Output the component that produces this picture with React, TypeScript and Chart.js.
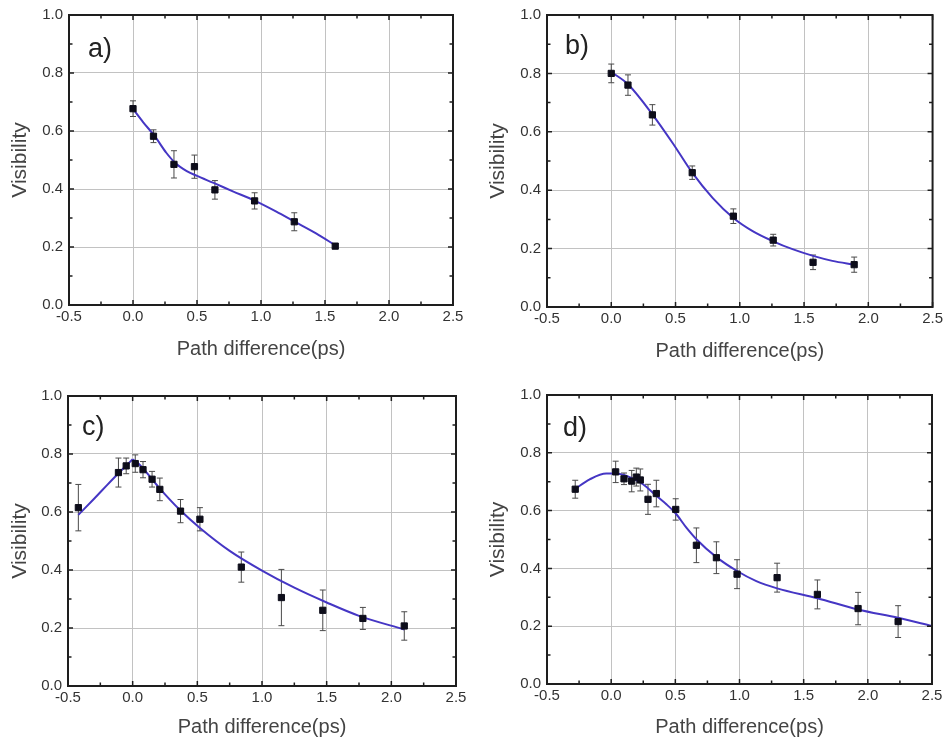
import React, { useEffect, useRef } from "react";
import { Chart, registerables } from "chart.js";

Chart.register(...registerables);
Chart.defaults.font.family = "'Liberation Sans', Arial, sans-serif";

// ---- tick values ----
const xTickValues = [-0.5, 0.0, 0.5, 1.0, 1.5, 2.0, 2.5];
const yTickValues = [0.0, 0.2, 0.4, 0.6, 0.8, 1.0];
const xMinorStep = 0.25;
const yMinorStep = 0.1;

// ---- panel a ----
const aX = [0, 0.16, 0.32, 0.48, 0.64, 0.95, 1.26, 1.58];
const aY = [0.677, 0.582, 0.485, 0.477, 0.397, 0.359, 0.287, 0.203];
const aErr = [0.027, 0.022, 0.047, 0.04, 0.032, 0.028, 0.031, 0.008];
const aFitX = [0, 0.08, 0.17, 0.26, 0.33, 0.42, 0.5, 0.63, 0.78, 0.95, 1.12, 1.26, 1.43, 1.58];
const aFitY = [0.676, 0.63, 0.582, 0.525, 0.49, 0.462, 0.445, 0.421, 0.392, 0.36, 0.322, 0.288, 0.247, 0.206];

// ---- panel b ----
const bX = [0, 0.13, 0.32, 0.63, 0.95, 1.26, 1.57, 1.89];
const bY = [0.8, 0.76, 0.658, 0.46, 0.311, 0.229, 0.153, 0.145];
const bErr = [0.032, 0.035, 0.035, 0.023, 0.025, 0.02, 0.025, 0.026];
const bFitX = [0, 0.13, 0.32, 0.48, 0.63, 0.79, 0.95, 1.1, 1.26, 1.41, 1.57, 1.72, 1.89];
const bFitY = [0.805, 0.763, 0.66, 0.56, 0.46, 0.373, 0.305, 0.26, 0.225, 0.198, 0.175, 0.158, 0.145];

// ---- panel c ----
const cX = [-0.42, -0.11, -0.05, 0.02, 0.08, 0.15, 0.21, 0.37, 0.52, 0.84, 1.15, 1.47, 1.78, 2.1];
const cY = [0.615, 0.736, 0.759, 0.767, 0.746, 0.713, 0.678, 0.603, 0.575, 0.41, 0.305, 0.261, 0.233, 0.207];
const cErr = [0.08, 0.05, 0.027, 0.03, 0.028, 0.027, 0.039, 0.04, 0.04, 0.052, 0.097, 0.07, 0.038, 0.049];
const cFitLeftX = [-0.42, -0.3, -0.2, -0.1, -0.05, 0];
const cFitLeftY = [0.59, 0.645, 0.692, 0.738, 0.76, 0.782];
const cFitRightX = [0, 0.05, 0.1, 0.2, 0.37, 0.52, 0.75, 1.0, 1.25, 1.5, 1.75, 2.1];
const cFitRightY = [0.782, 0.765, 0.74, 0.686, 0.605, 0.545, 0.466, 0.398, 0.339, 0.288, 0.242, 0.195];

// ---- panel d ----
const dX = [-0.28, 0.035, 0.1, 0.16, 0.196, 0.227, 0.287, 0.352, 0.503, 0.664, 0.82, 0.981, 1.293, 1.607, 1.924, 2.236];
const dY = [0.674, 0.734, 0.71, 0.702, 0.716, 0.706, 0.639, 0.659, 0.604, 0.48, 0.437, 0.38, 0.368, 0.31, 0.261, 0.216];
const dErr = [0.031, 0.037, 0.02, 0.037, 0.031, 0.038, 0.052, 0.046, 0.037, 0.06, 0.055, 0.05, 0.05, 0.05, 0.056, 0.055];
const dFitX = [-0.284, -0.167, -0.038, 0.035, 0.144, 0.248, 0.352, 0.43, 0.503, 0.586, 0.664, 0.82, 0.981, 1.131, 1.293, 1.607, 1.924, 2.236, 2.5];
const dFitY = [0.674, 0.708, 0.728, 0.728, 0.716, 0.691, 0.651, 0.622, 0.59, 0.541, 0.501, 0.439, 0.391, 0.356, 0.331, 0.297, 0.258, 0.229, 0.201];

const xTitle = "Path difference(ps)";
const yTitle = "Visibility";

const W = 473;
const H = 371;

type PanelCfg = {
  label: string;
  x: number[];
  y: number[];
  err: number[];
  fits: [number[], number[]][];
  pos: { left: number; top: number };
  area: { l: number; t: number; r: number; b: number };
  yTitlePad: number;
  xTitlePad: number;
  lab: { dx: number; dy: number };
};

const panels: PanelCfg[] = [
  {
    label: "a)", x: aX, y: aY, err: aErr, fits: [[aFitX, aFitY]],
    pos: { left: 0, top: 0 }, area: { l: 69, t: 13, r: 453, b: 305 },
    yTitlePad: 8, xTitlePad: 10, lab: { dx: 19, dy: 42 },
  },
  {
    label: "b)", x: bX, y: bY, err: bErr, fits: [[bFitX, bFitY]],
    pos: { left: 473, top: 0 }, area: { l: 74, t: 12, r: 461, b: 307 },
    yTitlePad: 13, xTitlePad: 8, lab: { dx: 18, dy: 39 },
  },
  {
    label: "c)", x: cX, y: cY, err: cErr, fits: [[cFitLeftX, cFitLeftY], [cFitRightX, cFitRightY]],
    pos: { left: 0, top: 371 }, area: { l: 68, t: 25, r: 456, b: 315 },
    yTitlePad: 8, xTitlePad: 3, lab: { dx: 14, dy: 39 },
  },
  {
    label: "d)", x: dX, y: dY, err: dErr, fits: [[dFitX, dFitY]],
    pos: { left: 473, top: 371 }, area: { l: 74, t: 24, r: 459, b: 313 },
    yTitlePad: 13, xTitlePad: 3, lab: { dx: 16, dy: 41 },
  },
];

function Panel({ cfg }: { cfg: PanelCfg }) {
  const ref = useRef<HTMLCanvasElement | null>(null);

  useEffect(() => {
    if (!ref.current) return;

    const errorBars = {
      id: "errorBars",
      beforeDatasetsDraw(chart: any) {
        const ctx = chart.ctx;
        const meta = chart.getDatasetMeta(0);
        const ys = chart.scales.y;
        ctx.save();
        ctx.strokeStyle = "#4a4a4a";
        ctx.lineWidth = 1;
        meta.data.forEach((pt: any, i: number) => {
          const v = cfg.y[i];
          const e = cfg.err[i];
          const top = ys.getPixelForValue(v + e);
          const bot = ys.getPixelForValue(v - e);
          const x = pt.x;
          ctx.beginPath();
          ctx.moveTo(x, top);
          ctx.lineTo(x, bot);
          ctx.moveTo(x - 3, top);
          ctx.lineTo(x + 3, top);
          ctx.moveTo(x - 3, bot);
          ctx.lineTo(x + 3, bot);
          ctx.stroke();
        });
        ctx.restore();
      },
    };

    const frame = {
      id: "frameTicks",
      afterDatasetsDraw(chart: any) {
        const ctx = chart.ctx;
        const { left, right, top, bottom } = chart.chartArea;
        const xs = chart.scales.x;
        const ys = chart.scales.y;
        ctx.save();
        ctx.strokeStyle = "#1e1e1e";
        ctx.lineWidth = 1.5;
        ctx.beginPath();
        const xmin = xs.min, xmax = xs.max;
        const nX = Math.round((xmax - xmin) / xMinorStep);
        for (let k = 0; k <= nX; k++) {
          const v = xmin + k * xMinorStep;
          const p = xs.getPixelForValue(v);
          const len = k % 2 === 0 ? 5 : 3.5;
          ctx.moveTo(p, bottom);
          ctx.lineTo(p, bottom - len);
          ctx.moveTo(p, top);
          ctx.lineTo(p, top + len);
        }
        const ymin = ys.min, ymax = ys.max;
        const nY = Math.round((ymax - ymin) / yMinorStep);
        for (let k = 0; k <= nY; k++) {
          const v = ymin + k * yMinorStep;
          const p = ys.getPixelForValue(v);
          const len = k % 2 === 0 ? 5 : 3.5;
          ctx.moveTo(left, p);
          ctx.lineTo(left + len, p);
          ctx.moveTo(right, p);
          ctx.lineTo(right - len, p);
        }
        ctx.stroke();
        ctx.lineWidth = 2;
        ctx.strokeRect(left, top, right - left, bottom - top);
        ctx.restore();
      },
    };

    const panelLabel = {
      id: "panelLabel",
      afterDatasetsDraw(chart: any) {
        const ctx = chart.ctx;
        const { left, top } = chart.chartArea;
        ctx.save();
        ctx.fillStyle = "#222";
        ctx.font = "27px 'Liberation Sans', Arial, sans-serif";
        ctx.textBaseline = "alphabetic";
        ctx.textAlign = "left";
        ctx.fillText(cfg.label, left + cfg.lab.dx, top + cfg.lab.dy);
        ctx.restore();
      },
    };

    const datasets: any[] = [
      {
        data: cfg.x.map((v, i) => ({ x: v, y: cfg.y[i] })),
        pointStyle: "rect",
        pointRadius: 4.4,
        pointBackgroundColor: "#0d0d1a",
        pointBorderColor: "#0d0d1a",
        pointBorderWidth: 1,
        showLine: false,
      },
      ...cfg.fits.map(([fx, fy]) => ({
        data: fx.map((v, i) => ({ x: v, y: fy[i] })),
        showLine: true,
        pointRadius: 0,
        borderColor: "#4536c4",
        borderWidth: 2,
        cubicInterpolationMode: "monotone",
        fill: false,
      })),
    ];

    const chart = new Chart(ref.current, {
      type: "scatter",
      data: { datasets },
      options: {
        responsive: false,
        animation: false,
        events: [],
        layout: {
          padding: { top: cfg.area.t, right: W - cfg.area.r, left: 0, bottom: 0 },
        },
        plugins: {
          legend: { display: false },
          tooltip: { enabled: false },
        },
        scales: {
          x: {
            type: "linear",
            min: -0.5,
            max: 2.5,
            afterBuildTicks: (s: any) => {
              s.ticks = xTickValues.map((v) => ({ value: v }));
            },
            afterFit: (s: any) => {
              s.height = H - cfg.area.b;
            },
            ticks: {
              callback: (v: any) => Number(v).toFixed(1),
              color: "#333",
              font: { size: 15 },
              padding: 3,
              maxRotation: 0,
              autoSkip: false,
            },
            grid: { color: "#c2c2c2", lineWidth: 1, drawTicks: false },
            border: { display: false },
            title: {
              display: true,
              text: xTitle,
              color: "#444",
              font: { size: 20 },
              padding: { top: 0, bottom: cfg.xTitlePad },
            },
          },
          y: {
            type: "linear",
            min: 0,
            max: 1,
            afterBuildTicks: (s: any) => {
              s.ticks = yTickValues.map((v) => ({ value: v }));
            },
            afterFit: (s: any) => {
              s.width = cfg.area.l;
            },
            ticks: {
              callback: (v: any) => Number(v).toFixed(1),
              color: "#333",
              font: { size: 15 },
              padding: 6,
              autoSkip: false,
            },
            grid: { color: "#c2c2c2", lineWidth: 1, drawTicks: false },
            border: { display: false },
            title: {
              display: true,
              text: yTitle,
              color: "#444",
              font: { size: 21 },
              padding: { top: cfg.yTitlePad, bottom: 0 },
            },
          },
        },
      } as any,
      plugins: [errorBars, frame, panelLabel],
    });

    return () => chart.destroy();
  }, [cfg]);

  return (
    <canvas
      ref={ref}
      width={W}
      height={H}
      style={{ position: "absolute", left: cfg.pos.left, top: cfg.pos.top, width: W, height: H }}
    />
  );
}

export default function App() {
  return (
    <div
      style={{
        position: "fixed",
        left: 0,
        top: 0,
        width: 946,
        height: 742,
        background: "#ffffff",
        overflow: "hidden",
      }}
    >
      {panels.map((p) => (
        <Panel key={p.label} cfg={p} />
      ))}
    </div>
  );
}
